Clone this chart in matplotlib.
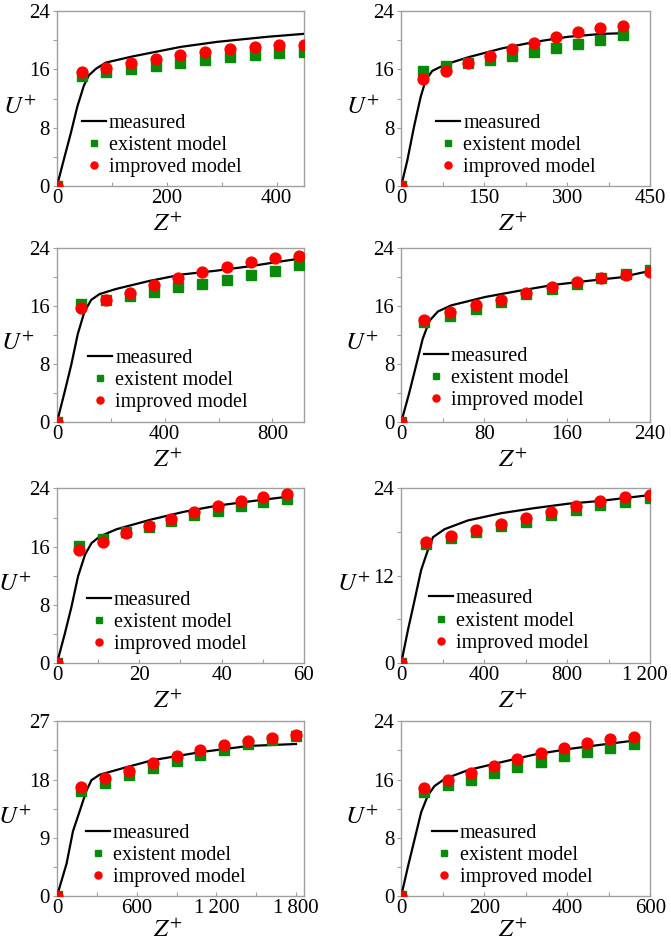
import matplotlib
matplotlib.use("Agg")
import matplotlib.pyplot as plt
from matplotlib.ticker import MultipleLocator, FixedLocator
from matplotlib.transforms import ScaledTranslation

plt.rcParams['font.family'] = ['Liberation Serif', 'DejaVu Serif']
plt.rcParams['mathtext.fontset'] = 'stix'

GREEN = '#0a8a0a'
RED = '#ff0000'
GRAY = '#a0a0a0'

# ---- panel (a) ----
a_meas_z = [0, 12, 25, 37, 49, 58, 71, 89, 138, 225, 292, 384, 450]
a_meas_u = [0, 3.5, 7.2, 10.9, 13.8, 15.2, 16.1, 16.95, 17.8, 19.1, 19.8, 20.5, 20.9]
a_pts_z = [0, 45, 90, 135, 180, 225, 270, 315, 360, 405, 450]
a_exist = [0, 15.1, 15.7, 16.1, 16.5, 16.95, 17.3, 17.7, 17.95, 18.2, 18.4]
a_impr = [0, 15.6, 16.2, 16.85, 17.45, 18.0, 18.4, 18.8, 19.05, 19.3, 19.4]

# ---- panel (b) ----
b_meas_z = [0, 11, 23, 35, 44, 56, 80, 122, 182, 242, 302, 363, 407]
b_meas_u = [0, 3.5, 8.1, 12.2, 14.5, 15.8, 16.7, 17.7, 18.9, 19.8, 20.5, 20.9, 21.0]
b_pts_z = [0, 40, 80, 120, 160, 200, 240, 280, 320, 360, 400]
b_exist = [0, 15.8, 16.5, 16.9, 17.3, 17.9, 18.4, 18.95, 19.45, 20.0, 20.75]
b_impr = [0, 14.75, 15.85, 16.9, 17.9, 18.85, 19.7, 20.5, 21.1, 21.65, 22.0]

# ---- panel (c) ----
c_meas_z = [0, 28, 53, 77, 102, 127, 158, 219, 342, 465, 588, 711, 896]
c_meas_u = [0, 4.1, 7.9, 12.1, 15.2, 16.8, 17.6, 18.3, 19.4, 20.3, 20.8, 21.4, 22.45]
c_pts_z = [0, 90, 180, 270, 360, 450, 540, 630, 720, 810, 900]
c_exist = [0, 16.25, 16.8, 17.35, 17.9, 18.55, 19.05, 19.6, 20.2, 20.8, 21.6]
c_impr = [0, 15.7, 16.8, 17.8, 18.8, 19.75, 20.65, 21.35, 22.05, 22.6, 22.9]

# ---- panel (d) ----
d_meas_z = [0, 7.5, 14, 20.6, 27.1, 35.3, 48.3, 81, 113.6, 146.3, 179, 211.6, 240]
d_meas_u = [0, 3.9, 7.6, 11.4, 13.9, 15.2, 16.05, 17.2, 18.05, 18.85, 19.4, 19.9, 20.8]
d_pts_z = [0, 22, 47, 72, 96, 120, 145, 169, 193, 217, 240]
d_exist = [0, 13.7, 14.65, 15.6, 16.5, 17.55, 18.3, 19.0, 19.8, 20.35, 20.95]
d_impr = [0, 14.1, 15.1, 16.05, 16.85, 17.8, 18.55, 19.25, 19.8, 20.25, 20.6]

# ---- panel (e) ----
e_meas_z = [0, 1.9, 3.5, 5.1, 6.8, 8.4, 10.4, 14.5, 22.7, 30.9, 39.0, 47.2, 55.8]
e_meas_u = [0, 4.05, 7.7, 11.9, 14.9, 16.5, 17.4, 18.4, 19.7, 20.8, 21.65, 22.25, 22.85]
e_pts_z = [0, 5.4, 11.1, 16.7, 22.4, 27.8, 33.4, 39.0, 44.6, 50.1, 55.8]
e_exist = [0, 16.1, 17.05, 17.95, 18.7, 19.5, 20.3, 20.95, 21.65, 22.15, 22.55]
e_impr = [0, 15.55, 16.7, 17.85, 18.9, 19.85, 20.75, 21.55, 22.25, 22.85, 23.25]

# ---- panel (f) ----
f_meas_z = [0, 32, 64, 96, 128, 153, 209, 321, 482, 643, 803, 964, 1200]
f_meas_u = [0, 4.5, 8.6, 12.8, 15.5, 17.3, 18.4, 19.6, 20.6, 21.3, 21.9, 22.3, 23.1]
f_pts_z = [0, 120, 240, 360, 480, 600, 720, 840, 960, 1080, 1200]
f_exist = [0, 16.4, 17.15, 18.0, 18.85, 19.45, 20.3, 21.0, 21.7, 22.15, 22.7]
f_impr = [0, 16.6, 17.4, 18.3, 19.15, 19.95, 20.75, 21.55, 22.25, 22.8, 23.15]

# ---- panel (g) ----
g_meas_z = [0, 72, 120, 172, 222, 259, 321, 521, 720, 1082, 1444, 1800]
g_meas_u = [0, 5.0, 10.0, 13.2, 16.3, 17.9, 18.75, 19.9, 21.0, 22.25, 23.2, 23.5]
g_pts_z = [0, 180, 360, 540, 720, 900, 1080, 1260, 1440, 1620, 1800]
g_exist = [0, 16.3, 17.5, 18.65, 19.8, 20.8, 21.75, 22.6, 23.45, 24.1, 24.7]
g_impr = [0, 16.85, 18.2, 19.4, 20.6, 21.6, 22.5, 23.3, 24.0, 24.5, 24.95]

# ---- panel (h) ----
h_meas_z = [0, 16, 32, 48, 64, 80, 105, 161, 242, 322, 403, 483, 560]
h_meas_u = [0, 4.0, 7.75, 11.5, 13.8, 15.1, 16.1, 17.3, 18.4, 19.45, 20.2, 20.8, 21.35]
h_pts_z = [0, 56, 112, 168, 224, 280, 336, 392, 448, 504, 560]
h_exist = [0, 14.25, 15.2, 16.0, 16.9, 17.7, 18.45, 19.2, 19.8, 20.4, 20.9]
h_impr = [0, 14.85, 15.9, 16.9, 17.85, 18.8, 19.6, 20.3, 21.0, 21.55, 21.9]

panels = [
    # data, xlim, xticks, xticklabels, ylim, yticks, legend anchor, ylabel x
    ((a_meas_z, a_meas_u, a_pts_z, a_exist, a_impr), 450, [0, 200, 400], None,
     24, [0, 8, 16, 24], (0.10, 0.23), -0.15),
    ((b_meas_z, b_meas_u, b_pts_z, b_exist, b_impr), 450, [0, 150, 300, 450], None,
     24, [0, 8, 16, 24], (0.14, 0.23), -0.155),
    ((c_meas_z, c_meas_u, c_pts_z, c_exist, c_impr), 917, [0, 400, 800], None,
     24, [0, 8, 16, 24], (0.125, 0.24), -0.16),
    ((d_meas_z, d_meas_u, d_pts_z, d_exist, d_impr), 240, [0, 80, 160, 240], None,
     24, [0, 8, 16, 24], (0.09, 0.25), -0.16),
    ((e_meas_z, e_meas_u, e_pts_z, e_exist, e_impr), 60, [0, 20, 40, 60], None,
     24, [0, 8, 16, 24], (0.12, 0.23), -0.17),
    ((f_meas_z, f_meas_u, f_pts_z, f_exist, f_impr), 1200, [0, 400, 800, 1200],
     ['0', '400', '800', '1\u2009200'], 24, [0, 12, 24], (0.11, 0.24), -0.19),
    ((g_meas_z, g_meas_u, g_pts_z, g_exist, g_impr), 1860, [0, 600, 1200, 1800],
     ['0', '600', '1\u2009200', '1\u2009800'], 27, [0, 9, 18, 27], (0.116, 0.23), -0.17),
    ((h_meas_z, h_meas_u, h_pts_z, h_exist, h_impr), 600, [0, 200, 400, 600], None,
     24, [0, 8, 16, 24], (0.125, 0.23), -0.16),
]

# axes boxes in figure fractions (left, bottom, width, height)
col_x = [0.085, 0.598]
col_w = [0.368, 0.371]
row_y = [0.803, 0.5525, 0.297, 0.050]
row_h = 0.185

fig = plt.figure(figsize=(6.71, 9.43), dpi=100)

for i, (data, xmax, xt, xtl, ymax, yt, leg_xy, ylab_x) in enumerate(panels):
    r, c = divmod(i, 2)
    ax = fig.add_axes([col_x[c], row_y[r], col_w[c], row_h])
    mz, mu, pz, ex, im = data

    ax.plot(mz, mu, color='black', lw=1.6, label='measured', zorder=3)
    ax.plot(pz, ex, ls='none', marker='s', ms=6.8, color=GREEN,
            mec=GREEN, label='existent model', zorder=4)
    ax.plot(pz, im, ls='none', marker='o', ms=7.8, color=RED,
            mec=RED, label='improved model', zorder=5)

    ax.set_xlim(0, xmax)
    ax.set_ylim(0, ymax)
    ax.xaxis.set_major_locator(FixedLocator(xt))
    if xtl:
        ax.set_xticklabels(xtl)
    step = xt[1] - xt[0]
    ax.xaxis.set_minor_locator(MultipleLocator(step / 2))
    ax.yaxis.set_major_locator(FixedLocator(yt))
    ax.yaxis.set_minor_locator(MultipleLocator((yt[1] - yt[0]) / 2))

    for s in ax.spines.values():
        s.set_color(GRAY)
        s.set_linewidth(1.0)
    ax.tick_params(axis='both', which='both', color=GRAY, labelsize=15,
                   width=0.8, pad=2)
    ax.tick_params(axis='x', which='both', direction='in', length=3)
    ax.tick_params(axis='y', which='both', direction='out', length=3)

    # right-hand labels at the figure edge are nudged inward a little
    if c == 1 and xtl:
        lab = ax.get_xticklabels()[-1]
        lab.set_transform(lab.get_transform()
                          + ScaledTranslation(-4 / 72, 0, fig.dpi_scale_trans))

    ax.set_ylabel(r'$U^{+}$', fontsize=18, rotation=0, va='center', ha='center')
    ax.yaxis.set_label_coords(ylab_x, 0.45)
    ax.set_xlabel(r'$Z^{+}$', fontsize=18, va='center')
    ax.xaxis.set_label_coords(0.45, -0.2 if r == 3 else -0.22)

    leg = ax.legend(loc='center left', bbox_to_anchor=leg_xy, frameon=False,
                    fontsize=14.5, borderpad=0, borderaxespad=0,
                    handlelength=1.2, handletextpad=0.15, labelspacing=0.15,
                    markerscale=0.65)

fig.savefig('out.png', dpi=100)
